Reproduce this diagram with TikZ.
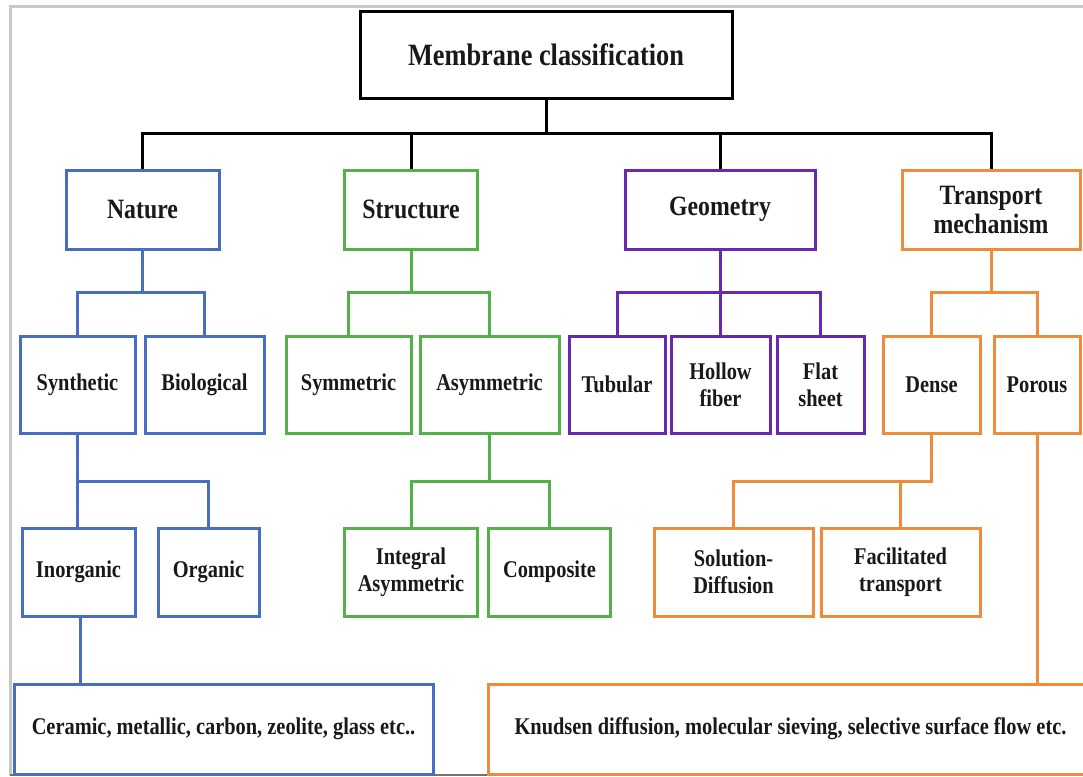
\documentclass[tikz,border=0pt]{standalone}
\usepackage{fontspec}
\setmainfont{Liberation Serif}[FakeStretch=0.85]
\definecolor{nb}{RGB}{72,110,196}
\definecolor{ng}{RGB}{84,176,72}
\definecolor{np}{RGB}{104,40,176}
\definecolor{no}{RGB}{237,140,58}
\definecolor{frame}{RGB}{200,200,200}
\begin{document}
\begin{tikzpicture}[x=1pt,y=-1pt,
  bx/.style={draw, line width=3pt, fill=white, inner sep=0pt, align=center,
    font=\fontsize{24}{27}\selectfont\bfseries, text=black!90},
  topbx/.style={bx, font=\fontsize{28}{29}\selectfont\bfseries},
  rootbx/.style={bx, draw=black, font=\fontsize{31}{33}\selectfont\bfseries},
  lvl1/.style={minimum height=79pt},
  lvl2/.style={minimum height=97pt},
  lvl3/.style={minimum height=88pt},
  lvl4/.style={minimum height=90pt, font=\fontsize{24}{27}\selectfont\bfseries},
  cn/.style={line width=3pt, line join=miter}]
\useasboundingbox (0,0) rectangle (1083,776);
\fill[white] (0,0) rectangle (1083,776);
% frame
\draw[frame, line width=3pt] (10,776) -- (10,7) -- (1083,7);
\draw[black!55, line width=2pt] (10,775) -- (1083,775);

% root
\node[rootbx, minimum width=372pt, minimum height=86pt] (root) at (546,55) {Membrane classification};

% level 1
\node[topbx, lvl1, draw=nb, minimum width=153pt] (nature) at (142.5,209.5) {Nature};
\node[topbx, lvl1, draw=ng, minimum width=133pt] (structure) at (411,209.5) {Structure};
\node[topbx, lvl1, draw=np, minimum width=190pt] (geometry) at (720,209.5) {Geometry};
\node[topbx, lvl1, draw=no, minimum width=178pt] (transport) at (991,209.5) {Transport\\mechanism};

% level 2
\node[bx, lvl2, draw=nb, minimum width=115pt] (synthetic) at (77.5,384.5) {Synthetic};
\node[bx, lvl2, draw=nb, minimum width=119pt] (biological) at (204.5,384.5) {Biological};
\node[bx, lvl2, draw=ng, minimum width=125pt] (symmetric) at (348.5,384.5) {Symmetric};
\node[bx, lvl2, draw=ng, minimum width=139pt] (asymmetric) at (489.5,384.5) {Asymmetric};
\node[bx, lvl2, draw=np, minimum width=96pt] (tubular) at (617,384.5) {Tubular};
\node[bx, lvl2, draw=np, minimum width=99pt] (hollow) at (720.5,384.5) {Hollow\\fiber};
\node[bx, lvl2, draw=np, minimum width=87pt] (flat) at (820.5,384.5) {Flat\\sheet};
\node[bx, lvl2, draw=no, minimum width=97pt] (dense) at (931.5,384.5) {Dense};
\node[bx, lvl2, draw=no, minimum width=86pt] (porous) at (1037,384.5) {Porous};

% level 3
\node[bx, lvl3, draw=nb, minimum width=113pt] (inorganic) at (78.5,572) {Inorganic};
\node[bx, lvl3, draw=nb, minimum width=101pt] (organic) at (208.5,572) {Organic};
\node[bx, lvl3, draw=ng, minimum width=133pt] (integral) at (411,572) {Integral\\Asymmetric};
\node[bx, lvl3, draw=ng, minimum width=122pt] (composite) at (549.5,572) {Composite};
\node[bx, lvl3, draw=no, minimum width=159pt] (solution) at (733.5,572) {Solution-\\Diffusion};
\node[bx, lvl3, draw=no, minimum width=159pt] (facilitated) at (900.5,572) {Facilitated\\transport};

% level 4
\node[bx, lvl4, draw=nb, minimum width=419pt] (ceramic) at (223.5,729) {Ceramic, metallic, carbon, zeolite, glass etc..};
\node[bx, lvl4, draw=no, minimum width=604pt] (knudsen) at (790.5,729) {Knudsen diffusion, molecular sieving, selective surface flow etc.};

% connectors level 0-1
\coordinate (b1) at (0,133);
\draw[cn, black] (root.south) -- (root.south |- b1);
\draw[cn, black] (nature.north) -- (nature.north |- b1) -- (transport.north |- b1) -- (transport.north);
\draw[cn, black] (structure.north |- b1) -- (structure.north);
\draw[cn, black] (geometry.north |- b1) -- (geometry.north);

% level 1-2
\coordinate (b2) at (0,292);
\draw[cn, nb] (nature.south) -- (nature.south |- b2);
\draw[cn, nb] (synthetic.north) -- (synthetic.north |- b2) -- (biological.north |- b2) -- (biological.north);
\draw[cn, ng] (structure.south) -- (structure.south |- b2);
\draw[cn, ng] (symmetric.north) -- (symmetric.north |- b2) -- (asymmetric.north |- b2) -- (asymmetric.north);
\draw[cn, np] (geometry.south) -- (geometry.south |- b2);
\draw[cn, np] (tubular.north) -- (tubular.north |- b2) -- (flat.north |- b2) -- (flat.north);
\draw[cn, np] (hollow.north |- b2) -- (hollow.north);
\draw[cn, no] (transport.south) -- (transport.south |- b2);
\draw[cn, no] (dense.north) -- (dense.north |- b2) -- (porous.north |- b2) -- (porous.north);

% level 2-3
\coordinate (b3) at (0,481);
\draw[cn, nb] (synthetic.south) -- (synthetic.south |- inorganic.north);
\draw[cn, nb] (synthetic.south |- b3) -- (organic.north |- b3) -- (organic.north);
\draw[cn, ng] (asymmetric.south) -- (asymmetric.south |- b3);
\draw[cn, ng] (integral.north) -- (integral.north |- b3) -- (composite.north |- b3) -- (composite.north);
\draw[cn, no] (dense.south) -- (dense.south |- b3) -- (solution.north |- b3) -- (solution.north);
\draw[cn, no] (facilitated.north |- b3) -- (facilitated.north);

% level 3-4
\draw[cn, nb] ([xshift=2pt]inorganic.south) -- ([xshift=2pt]inorganic.south |- ceramic.north);
\draw[cn, no] (porous.south) -- (porous.south |- knudsen.north);
\end{tikzpicture}
\end{document}
